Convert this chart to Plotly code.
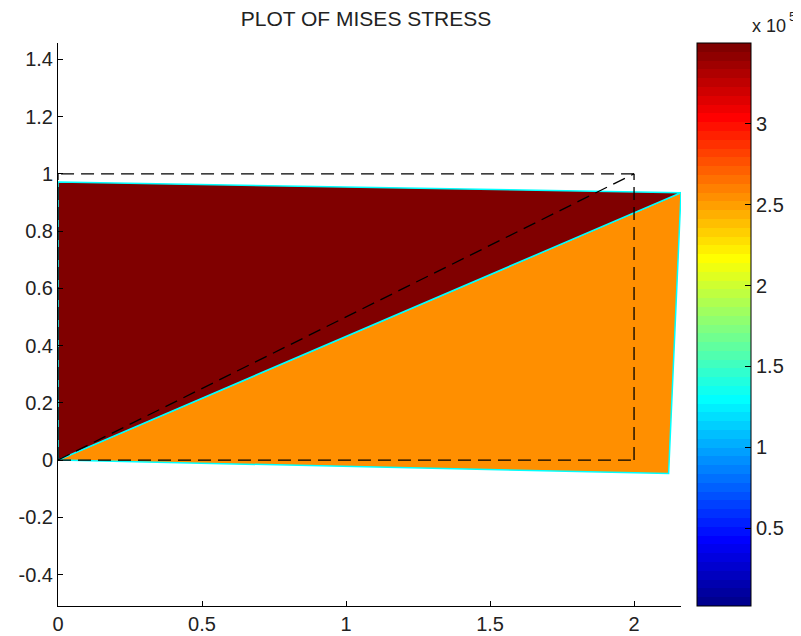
import numpy as np
import plotly.graph_objects as go

# ---- data ----
node_x = [0.0, 2.12, 2.163, 0.0]          # deformed node x
node_y = [0.0, -0.047, 0.934, 0.971]      # deformed node y
orig_x = [0.0, 2.0, 2.0, 0.0]             # undeformed node x
orig_y = [0.0, 0.0, 1.0, 1.0]             # undeformed node y
elements = [[0, 1, 2], [0, 2, 3]]         # triangle connectivity
mises = [2.55e5, 3.50e5]                  # element von Mises stress
cbar_min = 1.8e3
cbar_max = 3.50e5
cbar_tickvals = [0.5e5, 1.0e5, 1.5e5, 2.0e5, 2.5e5, 3.0e5]
cbar_ticktext = ["0.5", "1", "1.5", "2", "2.5", "3"]
x_ticks = [0, 0.5, 1, 1.5, 2]
y_ticks = [-0.4, -0.2, 0, 0.2, 0.4, 0.6, 0.8, 1, 1.2, 1.4]
x_range = [0, 2.163]
y_range = [-0.510, 1.457]


def jet(m=64):
    n = int(np.ceil(m / 4))
    u = np.concatenate([np.arange(1, n + 1) / n, np.ones(n - 1), np.arange(n, 0, -1) / n])
    g = int(np.ceil(n / 2)) - (1 if m % 4 == 1 else 0) + np.arange(1, len(u) + 1)
    r = g + n
    b = g - n
    J = np.zeros((m, 3))
    for idx, col in ((r, 0), (g, 1), (b, 2)):
        mask = (idx >= 1) & (idx <= m)
        J[idx[mask] - 1, col] = u[mask]
    return J


J = jet(64)
hexes = ["rgb(%d,%d,%d)" % tuple(int(round(c * 255)) for c in row) for row in J]
colorscale = []
for i, h in enumerate(hexes):
    colorscale.append([i / 64, h])
    colorscale.append([(i + 1) / 64, h])


def value_color(v):
    k = int(np.floor((v - cbar_min) / (cbar_max - cbar_min) * 64))
    k = max(0, min(63, k))
    return hexes[k]


FONT = "Liberation Sans, Arial, sans-serif"
TXT = "#222"
TICK_SIZE = 20
# page body has an 8px margin, so the figure is drawn 8px in from the window corner
OFF = 8
W, H = 801 - OFF, 636 - OFF
ML, MT = 58 - OFF, 43 - OFF
MR = W - (681 - OFF)
MB = H - (606 - OFF)
plot_w = W - ML - MR
plot_h = H - MT - MB


def px_x(px):
    return (px - OFF - ML) / plot_w


def px_y(py):
    return 1 - (py - OFF - MT) / plot_h


fig = go.Figure()

# deformed elements, colored by stress
for el, v in zip(elements, mises):
    xs = [node_x[i] for i in el] + [node_x[el[0]]]
    ys = [node_y[i] for i in el] + [node_y[el[0]]]
    fig.add_trace(go.Scatter(
        x=xs, y=ys, mode="lines", fill="toself", fillcolor=value_color(v),
        line=dict(color="#00FFFF", width=1.5), hoverinfo="skip", showlegend=False))

# undeformed mesh (dashed), unique edges
edges = []
for el in elements:
    for a, b in zip(el, el[1:] + el[:1]):
        e = tuple(sorted((a, b)))
        if e not in edges:
            edges.append(e)
ex, ey = [], []
for a, b in edges:
    ex += [orig_x[a], orig_x[b], None]
    ey += [orig_y[a], orig_y[b], None]
fig.add_trace(go.Scatter(
    x=ex, y=ey, mode="lines", line=dict(color="black", width=1.3, dash="13px,7px"),
    hoverinfo="skip", showlegend=False))

# colorbar carrier
cb_x = px_x(697)
fig.add_trace(go.Scatter(
    x=[0, 0], y=[0, 0], mode="markers",
    marker=dict(size=1, opacity=0, color=[cbar_min, cbar_max], cmin=cbar_min, cmax=cbar_max,
                colorscale=colorscale, showscale=True,
                colorbar=dict(
                    x=cb_x, xanchor="left", xref="paper", y=0.5, yanchor="middle",
                    len=1, lenmode="fraction", ypad=0, xpad=0,
                    thickness=54, thicknessmode="pixels",
                    outlinecolor="black", outlinewidth=1,
                    tickvals=cbar_tickvals, ticktext=cbar_ticktext,
                    ticks="inside", ticklen=6, tickcolor="black",
                    tickfont=dict(family=FONT, size=TICK_SIZE, color=TXT))),
    hoverinfo="skip", showlegend=False))

# left-side colorbar ticks
for tv in cbar_tickvals:
    yy = (tv - cbar_min) / (cbar_max - cbar_min)
    fig.add_shape(type="line", xref="paper", yref="paper",
                  x0=cb_x, x1=cb_x + 6 / plot_w, y0=yy, y1=yy,
                  line=dict(color="black", width=1))

fig.add_annotation(text="x 10", xref="paper", yref="paper",
                   x=px_x(750), y=px_y(38), xanchor="left", yanchor="bottom",
                   showarrow=False, font=dict(family=FONT, size=18, color=TXT))
fig.add_annotation(text="5", xref="paper", yref="paper",
                   x=px_x(788), y=px_y(8), xanchor="left", yanchor="top",
                   showarrow=False, borderpad=0, font=dict(family=FONT, size=13, color=TXT))

fig.update_layout(
    width=W, height=H,
    margin=dict(l=ML, r=MR, t=MT, b=MB, autoexpand=False),
    paper_bgcolor="white", plot_bgcolor="white",
    title=dict(text="PLOT OF MISES STRESS", x=px_x(366), xref="paper",
               xanchor="center", y=1 - (19 - OFF) / H, yanchor="middle",
               font=dict(family=FONT, size=21, color=TXT)),
    xaxis=dict(range=x_range, tickvals=x_ticks, ticktext=[str(t) for t in x_ticks],
               automargin=False,
               showgrid=False, zeroline=False, showline=True, linecolor="black", linewidth=1,
               ticks="inside", ticklen=5, tickcolor="black",
               tickfont=dict(family=FONT, size=TICK_SIZE, color=TXT)),
    yaxis=dict(range=y_range, tickvals=y_ticks, ticktext=[("%g" % t) for t in y_ticks],
               automargin=False,
               showgrid=False, zeroline=False, showline=True, linecolor="black", linewidth=1,
               ticks="inside", ticklen=5, tickcolor="black",
               tickfont=dict(family=FONT, size=TICK_SIZE, color=TXT)),
)

fig.write_html("out.html")
